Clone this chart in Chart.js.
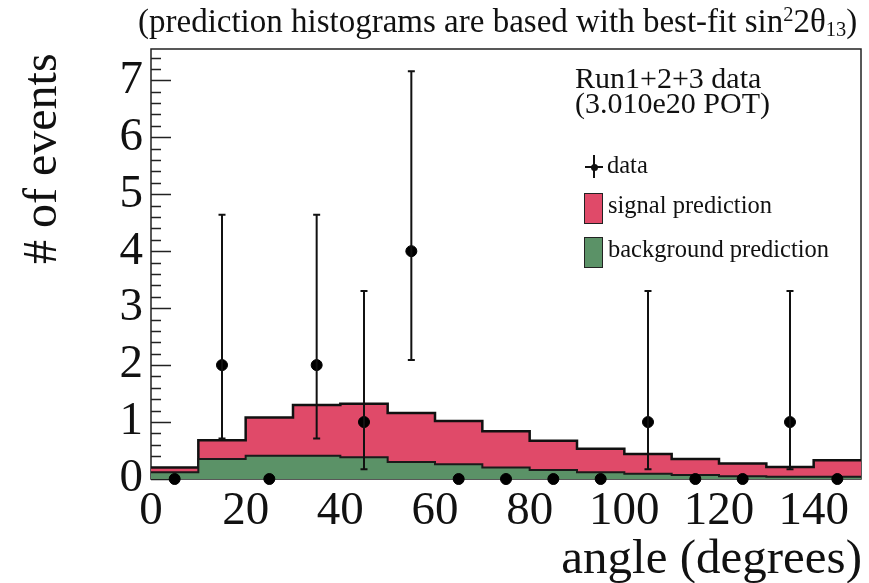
<!DOCTYPE html>
<html>
<head>
<meta charset="utf-8">
<script src="https://cdn.jsdelivr.net/npm/chart.js@4.4.1/dist/chart.umd.min.js"></script>
<style>
  html, body { margin: 0; padding: 0; background: #fff; }
  #wrap { position: relative; width: 869px; height: 583px; font-family: "Liberation Serif", "Times New Roman", serif; color: #111; }
  #plot { position: absolute; left: 0; top: 0; }
  .txt { position: absolute; white-space: nowrap; line-height: 1; }
  .txt sup, .txt sub { font-size: 0.62em; line-height: 0; position: relative; vertical-align: baseline; }
  .txt sup { top: -0.55em; }
  .txt sub { top: 0.2em; }
  .box { position: absolute; width: 17px; height: 29px; border: 1.5px solid #222; }
  .bar { position: absolute; background: #111; }
</style>
</head>
<body>
<div id="wrap">
  <canvas id="plot" width="869" height="583"></canvas>

  <div class="txt" style="left:138px; top:5px; font-size:33px;">(prediction histograms are based with best-fit sin<sup>2</sup>2θ<sub>13</sub>)</div>

  <div class="txt" style="left:16px; top:264px; font-size:48px; transform-origin:0 0; transform:rotate(-90deg);"># of events</div>
  <div class="txt" style="right:7px; top:532px; font-size:49px;">angle (degrees)</div>

  <!-- legend -->
  <div class="txt" style="left:575px; top:63px; font-size:30px;">Run1+2+3 data</div>
  <div class="txt" style="left:575px; top:88px; font-size:30px;">(3.010e20 POT)</div>

  <div class="bar" style="left:585px; top:166px; width:18px; height:2px;"></div>
  <div class="bar" style="left:593px; top:155px; width:2px; height:23px;"></div>
  <div class="bar" style="left:591px; top:164px; width:7px; height:7px; border-radius:50%;"></div>
  <div class="txt" style="left:607px; top:153px; font-size:24.5px;">data</div>

  <div class="box" style="left:584px; top:193px; background:#e04a69;"></div>
  <div class="txt" style="left:608px; top:193px; font-size:24.5px;">signal prediction</div>

  <div class="box" style="left:584px; top:237px; background:#5b9267;"></div>
  <div class="txt" style="left:608px; top:237px; font-size:24.5px;">background prediction</div>
</div>

<script>
// 10-degree bins from 0 to 150
const binEdges = [0, 10, 20, 30, 40, 50, 60, 70, 80, 90, 100, 110, 120, 130, 140, 150];
const binCenters = [5, 15, 25, 35, 45, 55, 65, 75, 85, 95, 105, 115, 125, 135, 145];

// predicted events per bin
const backgroundPred = [0.12, 0.35, 0.41, 0.41, 0.38, 0.30, 0.26, 0.20, 0.16, 0.12, 0.09, 0.07, 0.05, 0.04, 0.04];
const signalPred     = [0.08, 0.33, 0.67, 0.89, 0.94, 0.86, 0.76, 0.64, 0.51, 0.41, 0.35, 0.28, 0.22, 0.17, 0.29];

// observed events and their (asymmetric) errors
const dataCounts = [0, 2, 0, 2, 1, 4, 0, 0, 0, 0, 1, 0, 0, 1, 0];
const errLow     = [0, 1.29, 0, 1.29, 0.83, 1.91, 0, 0, 0, 0, 0.83, 0, 0, 0.83, 0];
const errHigh    = [0, 2.64, 0, 2.64, 2.30, 3.16, 0, 0, 0, 0, 2.30, 0, 0, 2.30, 0];

const xTicks = [0, 20, 40, 60, 80, 100, 120, 140];
const yTicks = [0, 1, 2, 3, 4, 5, 6, 7];

const FONT = "'Liberation Serif', 'Times New Roman', serif";
const SIGNAL_COLOR = "#e04a69";
const BKG_COLOR = "#5b9267";

const totalPred = backgroundPred.map((b, i) => b + signalPred[i]);
// histogram outline: one point per left bin edge plus the final right edge
const stepPoints = (vals) => binEdges.map((x, i) => ({ x, y: vals[Math.min(i, vals.length - 1)] }));

// frame + inward y ticks, ROOT style
const framePlugin = {
  id: "frame",
  beforeDatasetsDraw(chart) {
    const { ctx, chartArea: a, scales } = chart;
    const y = scales.y;
    ctx.save();
    ctx.strokeStyle = "#222";
    ctx.lineWidth = 1.5;
    ctx.strokeRect(a.left, a.top, a.right - a.left, a.bottom - a.top);
    ctx.beginPath();
    for (let v = 0; v <= y.max + 1e-6; v += 0.2) {
      const major = Math.abs(v - Math.round(v)) < 1e-6;
      const py = Math.round(y.getPixelForValue(v)) + 0.5;
      ctx.moveTo(a.left, py);
      ctx.lineTo(a.left + (major ? 20 : 10), py);
    }
    ctx.stroke();
    ctx.restore();
  },
};

// vertical error bars with small end caps
const errorBarPlugin = {
  id: "errorBars",
  afterDatasetsDraw(chart) {
    const { ctx, scales } = chart;
    ctx.save();
    ctx.strokeStyle = "#111";
    ctx.lineWidth = 2;
    ctx.beginPath();
    dataCounts.forEach((c, i) => {
      if (!errLow[i] && !errHigh[i]) return;
      const px = scales.x.getPixelForValue(binCenters[i]);
      const lo = scales.y.getPixelForValue(c - errLow[i]);
      const hi = scales.y.getPixelForValue(c + errHigh[i]);
      ctx.moveTo(px, lo); ctx.lineTo(px, hi);
      ctx.moveTo(px - 3.5, lo); ctx.lineTo(px + 3.5, lo);
      ctx.moveTo(px - 3.5, hi); ctx.lineTo(px + 3.5, hi);
    });
    ctx.stroke();
    ctx.restore();
  },
};

new Chart(document.getElementById("plot"), {
  type: "line",
  data: {
    datasets: [
      {
        label: "background prediction",
        data: stepPoints(backgroundPred),
        stepped: "before",
        borderColor: "#1a1a1a",
        borderWidth: 2,
        backgroundColor: BKG_COLOR,
        fill: "origin",
        pointRadius: 0,
        order: 1,
      },
      {
        label: "signal prediction",
        data: stepPoints(totalPred),
        stepped: "before",
        borderColor: "#111",
        borderWidth: 2.5,
        backgroundColor: SIGNAL_COLOR,
        fill: "-1",
        pointRadius: 0,
        order: 2,
      },
      {
        label: "data",
        data: binCenters.map((x, i) => ({ x, y: dataCounts[i] })),
        showLine: false,
        pointRadius: 5.5,
        pointBackgroundColor: "#000",
        pointBorderColor: "#000",
        clip: false,
        order: 0,
      },
    ],
  },
  options: {
    responsive: false,
    devicePixelRatio: 1,
    animation: false,
    layout: { padding: { left: 0, top: 49, right: 8, bottom: 0 } },
    scales: {
      x: {
        type: "linear",
        min: 0,
        max: 150,
        afterFit: (s) => { s.height = 104; },
        afterBuildTicks: (s) => { s.ticks = xTicks.map((value) => ({ value })); },
        grid: { display: false, drawTicks: false },
        border: { display: false },
        ticks: { padding: 4, color: "#111", font: { family: FONT, size: 47 }, maxRotation: 0, autoSkip: false },
      },
      y: {
        min: 0,
        max: 7.55,
        afterFit: (s) => { s.width = 151; },
        afterBuildTicks: (s) => { s.ticks = yTicks.map((value) => ({ value })); },
        grid: { display: false, drawTicks: false },
        border: { display: false },
        ticks: { padding: 8, color: "#111", font: { family: FONT, size: 47 } },
      },
    },
    plugins: {
      legend: { display: false },
      tooltip: { enabled: false },
    },
  },
  plugins: [framePlugin, errorBarPlugin],
});
</script>
</body>
</html>
